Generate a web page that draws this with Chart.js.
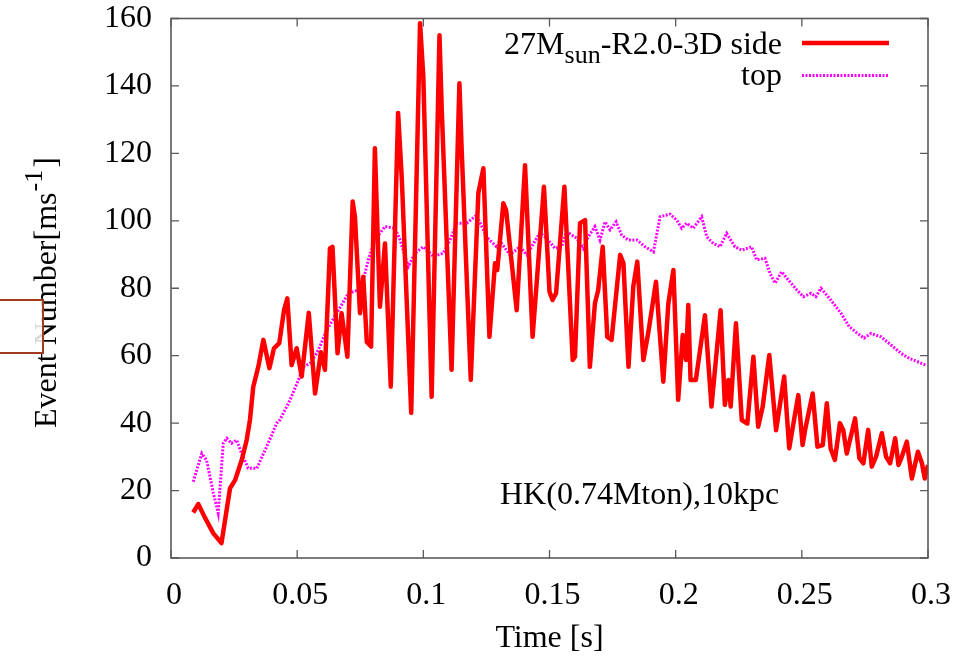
<!DOCTYPE html>
<html>
<head>
<meta charset="utf-8">
<script src="https://cdn.jsdelivr.net/npm/chart.js@4.4.1/dist/chart.umd.min.js"></script>
<style>
  html, body { margin: 0; padding: 0; background: #fff; }
  #wrap { position: relative; width: 965px; height: 659px; }
  #c { position: absolute; left: 0; top: 0; }
  #box { position: absolute; left: -2px; top: 299px; width: 42px; height: 51px;
         border: 2px solid #a23a1c; background: rgba(255,255,255,0.85); }
</style>
</head>
<body>
<div id="wrap">
  <canvas id="c" width="965" height="659"></canvas>
  <div id="box"></div>
</div>
<script>
// ---- data ----
const sideTime = [0.0088,0.0108,0.0135,0.0168,0.020,0.0234,0.0254,0.028,0.030,0.0313,0.0326,0.0346,0.0366,0.039,0.0408,0.0429,0.0448,0.0461,0.0478,0.0498,0.0518,0.0546,0.0571,0.0594,0.061,0.063,0.064,0.066,0.0676,0.0699,0.072,0.0729,0.0749,0.0762,0.0776,0.0793,0.0808,0.0828,0.0848,0.0871,0.090,0.0915,0.0952,0.0987,0.100,0.1033,0.1064,0.1073,0.1112,0.1143,0.1152,0.1188,0.1218,0.1238,0.1262,0.1284,0.1293,0.1317,0.1328,0.137,0.1403,0.1433,0.1478,0.150,0.1512,0.1526,0.1559,0.1592,0.1601,0.1621,0.1641,0.166,0.168,0.1693,0.1711,0.1729,0.1746,0.178,0.1793,0.1813,0.1832,0.1848,0.1872,0.1892,0.1922,0.1951,0.1971,0.1991,0.201,0.2028,0.2041,0.205,0.2059,0.208,0.2116,0.2142,0.2178,0.2195,0.2209,0.2218,0.2239,0.2262,0.2284,0.2308,0.2327,0.2345,0.2371,0.2398,0.243,0.245,0.2469,0.2486,0.2503,0.2513,0.2543,0.2562,0.2583,0.2599,0.2614,0.2631,0.2651,0.2664,0.2678,0.2711,0.2728,0.2744,0.2763,0.2777,0.2794,0.2817,0.2834,0.285,0.287,0.2883,0.2896,0.2916,0.2936,0.296,0.2976,0.2987,0.300];
const sideCounts = [13.5,16,11.9,7.3,4.4,20.7,23.1,29,35,41,50.8,56.7,64.7,56.3,62.2,63.7,73.5,77,57.2,62.2,53.8,72.7,48.8,61,55.8,91.8,92.3,60.7,72.6,59.7,105.7,101.2,72.6,83.4,64.1,62.7,121.5,74.5,93.3,50.8,132,112,43,158.6,142.7,47.8,155,132.9,55.8,140.8,121,52.8,108.2,115.6,65.6,87.4,85.4,105.2,103.2,73.5,116.5,65.6,110.1,79,76.5,78.5,110.1,58.7,59.7,99.3,100.2,56.7,75.5,79.5,92.3,65.6,64.7,89.9,87.4,56.7,80.5,87.9,58.7,67.1,81.9,52.3,75.5,85.4,46.9,66.1,58.7,75,52.8,52.8,72,44.9,73.5,45.4,52.8,44.9,69.6,40.9,39.9,59.7,38.9,44.9,60.2,37.9,53.8,32.5,40.9,48.3,33.5,38,48.8,33,33.5,45.9,32.5,29.1,40,38,31,41.4,29.6,28.1,38,27.1,30,37,30,28.1,35.5,27.6,30,34.5,23.6,31.5,28.1,23.6,27.6];

const topTime = [0.0088,0.0122,0.0141,0.0168,0.0187,0.0207,0.0221,0.024,0.026,0.028,0.0306,0.034,0.0379,0.0419,0.0432,0.0472,0.0505,0.0524,0.0551,0.0577,0.059,0.0617,0.0657,0.0703,0.0742,0.0762,0.0782,0.0808,0.0848,0.0888,0.0908,0.094,0.0967,0.1,0.104,0.1079,0.1106,0.1132,0.1172,0.1211,0.125,0.129,0.131,0.1343,0.1383,0.141,0.1462,0.1489,0.1522,0.1548,0.1568,0.1608,0.1634,0.1654,0.168,0.170,0.172,0.174,0.1764,0.1786,0.1812,0.1846,0.1879,0.1912,0.1938,0.1978,0.2004,0.2024,0.2044,0.207,0.2103,0.2123,0.2149,0.2176,0.2202,0.2235,0.2262,0.2301,0.2321,0.2354,0.2374,0.2394,0.242,0.2447,0.248,0.2506,0.2536,0.2556,0.2576,0.2615,0.2655,0.2688,0.2721,0.2747,0.2774,0.2814,0.2853,0.2893,0.2926,0.2959,0.2992];
const topCounts = [22.6,31,29,19.2,13.3,34,35.5,34,35,31,26.6,26.6,33,40,41,46.9,52.8,56.7,57.7,60.7,62.7,67.6,72.6,78.5,79.5,82.4,88.4,94.3,98.3,97.8,94.3,86.4,90.4,92.3,89.4,90.4,94.3,99.3,99.3,101.7,95.3,92.3,93.3,89.9,92.3,89.9,96.5,94.8,91.8,92.3,96.8,94.8,91.8,95.3,98.3,94.3,99.7,97.3,99.7,95.8,94.3,94.3,92.3,90.8,101.2,102,100.2,97.8,99.3,97.8,101.2,95.3,93.3,92.3,96.3,92.3,91.3,92.3,88.4,88.9,84.4,81.5,84.9,82.4,79.5,77.5,78.5,77.5,80,76.5,72.6,68.6,66.6,65.2,66.6,65.6,63.2,60.7,59.2,58.2,57.2];

const xTicks = [0, 0.05, 0.1, 0.15, 0.2, 0.25, 0.3];
const yTicks = [0, 20, 40, 60, 80, 100, 120, 140, 160];
const xTitle = "Time [s]";
const yTitleMain = "Event Number[ms";
const yTitleSup = "-1";
const yTitleEnd = "]";
const sideLabelA = "27M", sideLabelSub = "sun", sideLabelB = "-R2.0-3D side";
const topLabel = "top";
const note = "HK(0.74Mton),10kpc";

const FONT = "'Liberation Serif', 'DejaVu Serif', serif";
const RED = "#ff0000";
const MAG = "#ff00ff";

const toXY = (xs, ys) => xs.map((x, i) => ({ x: x, y: ys[i] }));
const noPad = s => { s.paddingTop = 0; s.paddingBottom = 0; s.paddingLeft = 0; s.paddingRight = 0; };

const decor = {
  id: 'decor',
  afterDraw(chart) {
    const ctx = chart.ctx;
    const a = chart.chartArea;
    const xs = chart.scales.x, ys = chart.scales.y;
    ctx.save();
    // frame
    ctx.strokeStyle = '#5a5a5a';
    ctx.lineWidth = 1.6;
    ctx.strokeRect(a.left, a.top, a.right - a.left, a.bottom - a.top);
    // inward ticks, mirrored
    ctx.lineWidth = 1.3;
    const tl = 8;
    ctx.beginPath();
    xTicks.forEach(v => {
      const px = xs.getPixelForValue(v);
      ctx.moveTo(px, a.bottom); ctx.lineTo(px, a.bottom - tl);
      ctx.moveTo(px, a.top); ctx.lineTo(px, a.top + tl);
    });
    yTicks.forEach(v => {
      const py = ys.getPixelForValue(v);
      ctx.moveTo(a.left, py); ctx.lineTo(a.left + tl, py);
      ctx.moveTo(a.right, py); ctx.lineTo(a.right - tl, py);
    });
    ctx.stroke();

    ctx.fillStyle = '#000';
    ctx.textBaseline = 'alphabetic';
    // legend
    const big = "32px " + FONT, small = "26px " + FONT;
    ctx.font = big;
    const wA = ctx.measureText(sideLabelA).width;
    const wB = ctx.measureText(sideLabelB).width;
    ctx.font = small;
    const wS = ctx.measureText(sideLabelSub).width;
    const rightX = 782;
    let x0 = rightX - (wA + wS + wB);
    ctx.font = big; ctx.textAlign = 'left';
    ctx.fillText(sideLabelA, x0, 54);
    ctx.font = small;
    ctx.fillText(sideLabelSub, x0 + wA, 63);
    ctx.font = big;
    ctx.fillText(sideLabelB, x0 + wA + wS, 54);
    ctx.textAlign = 'right';
    ctx.fillText(topLabel, rightX, 85);
    // legend samples
    ctx.strokeStyle = RED; ctx.lineWidth = 4.5; ctx.setLineDash([]);
    ctx.beginPath(); ctx.moveTo(802, 43); ctx.lineTo(889, 43); ctx.stroke();
    ctx.strokeStyle = MAG; ctx.lineWidth = 3; ctx.setLineDash([2, 1.5]);
    ctx.beginPath(); ctx.moveTo(802, 75.5); ctx.lineTo(889, 75.5); ctx.stroke();
    ctx.setLineDash([]);
    // note
    ctx.textAlign = 'left';
    ctx.font = big;
    ctx.fillText(note, 500, 504);
    // x title
    ctx.textAlign = 'center';
    ctx.fillText(xTitle, (a.left + a.right) / 2, 647);
    // y title (rotated, with superscript)
    ctx.translate(56, 428);
    ctx.rotate(-Math.PI / 2);
    ctx.textAlign = 'left';
    ctx.font = big;
    const w1 = ctx.measureText(yTitleMain).width;
    ctx.fillText(yTitleMain, 0, 0);
    ctx.font = small;
    const w2 = ctx.measureText(yTitleSup).width;
    ctx.fillText(yTitleSup, w1 + 1, -14);
    ctx.font = big;
    ctx.fillText(yTitleEnd, w1 + w2 + 3, 0);
    ctx.restore();
  }
};

new Chart(document.getElementById('c'), {
  type: 'line',
  data: {
    datasets: [
      { label: 'side', data: toXY(sideTime, sideCounts), borderColor: RED, borderWidth: 4.5,
        pointRadius: 0, tension: 0, fill: false, borderJoinStyle: 'round' },
      { label: 'top', data: toXY(topTime, topCounts), borderColor: MAG, borderWidth: 3,
        borderDash: [2, 1.5], pointRadius: 0, tension: 0, fill: false }
    ]
  },
  options: {
    responsive: false,
    animation: false,
    events: [],
    layout: { padding: { left: 0, top: 18.5, right: 37, bottom: 0 } },
    plugins: { legend: { display: false }, tooltip: { enabled: false } },
    scales: {
      x: {
        type: 'linear', min: 0, max: 0.3,
        afterBuildTicks: s => { s.ticks = xTicks.map(v => ({ value: v })); },
        afterFit: s => { s.height = 101; noPad(s); },
        grid: { display: false, drawTicks: false },
        border: { display: false },
        ticks: { color: '#000', font: { family: FONT, size: 32 }, padding: 18, labelOffset: 3,
                 maxRotation: 0, autoSkip: false,
                 callback: v => String(Math.round(v * 100) / 100) }
      },
      y: {
        min: 0, max: 160,
        afterBuildTicks: s => { s.ticks = yTicks.map(v => ({ value: v })); },
        afterFit: s => { s.width = 171; noPad(s); },
        grid: { display: false, drawTicks: false },
        border: { display: false },
        ticks: { color: '#000', font: { family: FONT, size: 32 }, padding: 19, autoSkip: false }
      }
    }
  },
  plugins: [decor]
});
</script>
</body>
</html>
